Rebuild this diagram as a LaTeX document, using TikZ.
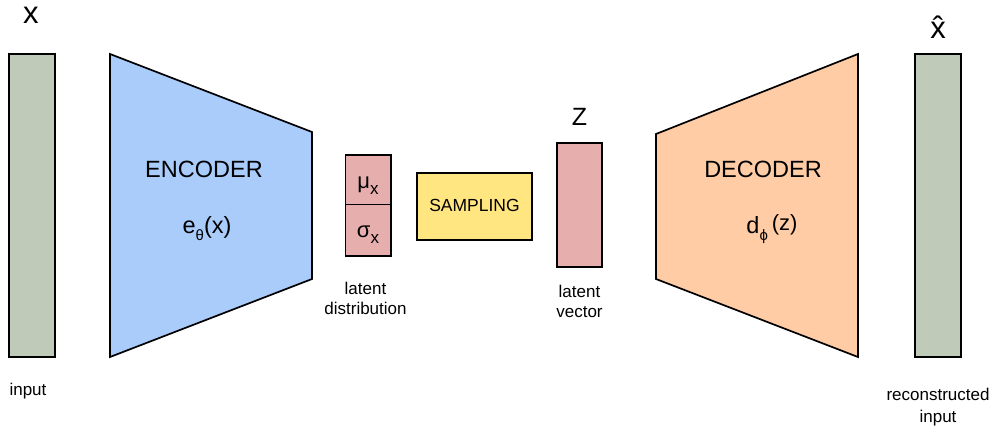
\documentclass[tikz,border=0pt]{standalone}
\usepackage{fontspec}
\setmainfont{Liberation Sans}
% lowered subscript at a fixed size
\newcommand{\lowsub}[2][15]{\raisebox{-0.3em}{\fontsize{#1}{#1}\selectfont #2}}
\begin{document}
\begin{tikzpicture}[x=1pt,y=-1pt,
  line width=1.7pt, line join=miter,
  bar/.style={draw=black, line width=1.7pt},
  big/.style={font=\fontsize{23.5}{26}\selectfont, anchor=base},
  mid/.style={font=\fontsize{17.5}{20}\selectfont, anchor=base},
  small/.style={font=\fontsize{17}{21}\selectfont, anchor=base, align=center},
  lbl/.style={font=\fontsize{31}{34}\selectfont, anchor=base}]
\definecolor{barGreen}{RGB}{192,202,184}
\definecolor{encBlue}{RGB}{169,204,251}
\definecolor{decOrange}{RGB}{255,204,166}
\definecolor{latPink}{RGB}{231,174,174}
\definecolor{sampYellow}{RGB}{255,230,128}
\useasboundingbox (0,0) rectangle (995,426);

% input vector
\filldraw[bar, fill=barGreen] (9,54) rectangle (55,357);
\node[lbl] (xin) at (31,23) {x};
\node[small] (inlab) at (28,395) {input};

% encoder
\filldraw[bar, fill=encBlue] (110,54) -- (312,132) -- (312,279) -- (110,357) -- cycle;
\node[big] (enc) at (204,177) {ENCODER};
\node[big] (efun) at (207,233) {e\lowsub{θ}(x)};

% latent distribution
\filldraw[bar, fill=latPink] (345.5,155) rectangle (391,204.5);
\filldraw[bar, fill=latPink] (345.5,204.5) rectangle (391,256);
\node[mid, font=\fontsize{22}{24}\selectfont] (mu) at (368,188) {μ\lowsub[17]{x}};
\node[mid, font=\fontsize{22}{24}\selectfont] (sigma) at (368,237) {σ\lowsub[17]{x}};
\node[small] (ldist1) at (365.5,294) {latent};
\node[small] (ldist2) at (365.5,314) {distribution};

% sampling
\filldraw[bar, fill=sampYellow] (417,173) rectangle (532,240);
\node[mid] (samp) at (474.5,211) {SAMPLING};

% latent vector
\filldraw[bar, fill=latPink] (557,143) rectangle (602,267);
\node[lbl, font=\fontsize{25}{28}\selectfont] (zlab) at (579.5,125) {Z};
\node[small] (lvec1) at (579.5,297) {latent};
\node[small] (lvec2) at (579.5,317) {vector};

% decoder
\filldraw[bar, fill=decOrange] (656,134) -- (858,54) -- (858,357) -- (656,279) -- cycle;
\node[big] (dec) at (763,177) {DECODER};
\node[big] (dfun) at (772,233) {d\lowsub{ϕ}\,{\fontsize{22}{24}\selectfont\raisebox{0.1em}{(z)}}};

% reconstructed vector
\filldraw[bar, fill=barGreen] (915,54) rectangle (961,357);
\node[lbl] (xhat) at (938,38) {\^{x}};
\node[small] (outlab1) at (938,400) {reconstructed};
\node[small] (outlab2) at (938,422) {input};
\end{tikzpicture}
\end{document}
